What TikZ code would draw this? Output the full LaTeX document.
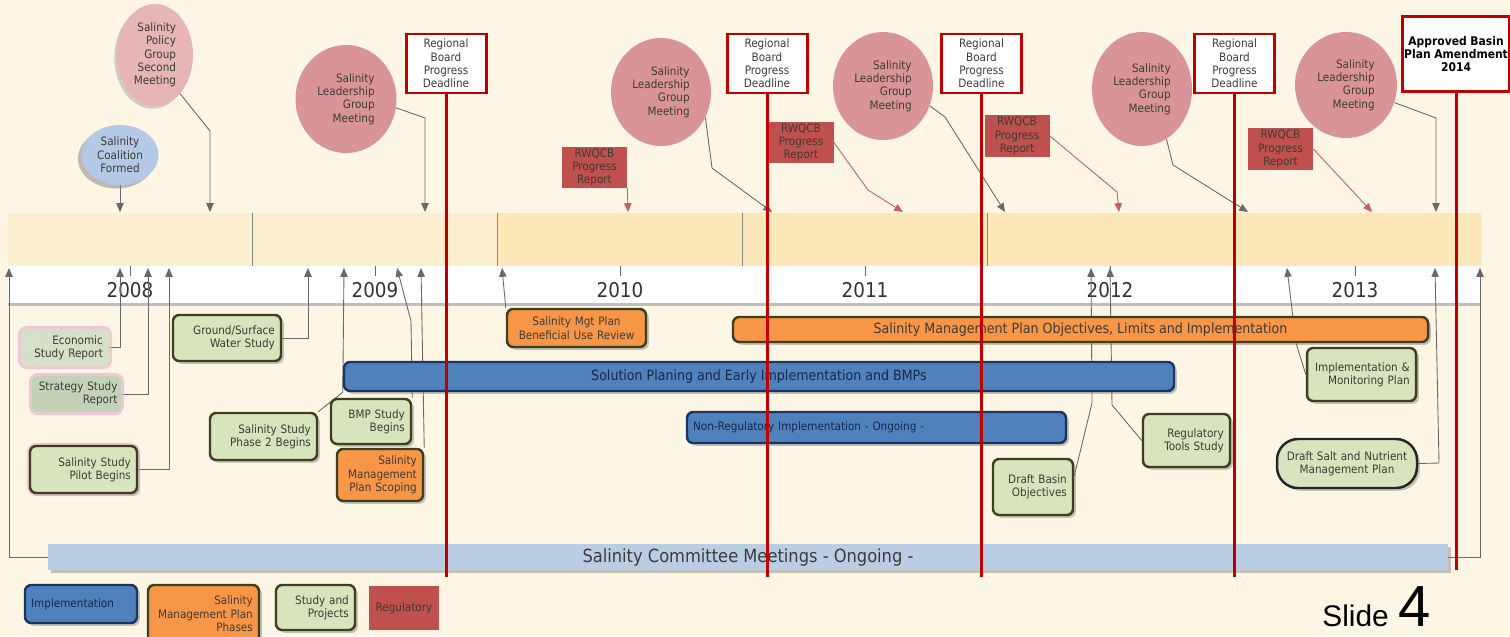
\documentclass[tikz,border=0pt]{standalone}
\usepackage{fontspec}
\setmainfont{DejaVu Sans Condensed}
\newfontfamily\slidefont{Liberation Sans}
\usetikzlibrary{shapes.geometric,arrows.meta,shadows,patterns}

\definecolor{cream}{RGB}{253,246,228}
\definecolor{bandA}{RGB}{251,238,206}
\definecolor{bandB}{RGB}{251,231,183}
\definecolor{conline}{RGB}{105,105,105}
\definecolor{txt}{RGB}{60,60,55}
\definecolor{pinkA}{RGB}{217,148,152}
\definecolor{pinkB}{RGB}{231,180,184}
\definecolor{coalblue}{RGB}{180,201,229}
\definecolor{regred}{RGB}{192,0,0}
\definecolor{rwred}{RGB}{192,80,77}
\definecolor{rwline}{RGB}{200,95,95}
\definecolor{orng}{RGB}{247,150,70}
\definecolor{blu}{RGB}{79,129,189}
\definecolor{bluedge}{RGB}{28,52,95}
\definecolor{navytxt}{RGB}{25,40,70}
\definecolor{grn}{RGB}{215,228,189}
\definecolor{olive}{RGB}{62,62,32}
\definecolor{commblue}{RGB}{185,205,228}
\definecolor{glowpink}{RGB}{232,170,200}
\definecolor{econgrn}{RGB}{212,224,194}
\definecolor{stratgrn}{RGB}{196,210,184}

\pgfdeclarelayer{back}
\pgfdeclarelayer{links}
\pgfsetlayers{back,links,main}

\tikzset{
  sz/.style 2 args={minimum width=#1*0.02cm,minimum height=#2*0.02cm},
  tw/.style 2 args={text width=#1*0.02cm-7pt,inner xsep=3.5pt,minimum height=#2*0.02cm},
  lbl/.style={font=\fontsize{6.6}{7.6}\selectfont,text=txt},
  meet/.style={ellipse,fill=pinkA,lbl,align=right,inner sep=1pt},
  rbd/.style={draw=regred,line width=1.7pt,fill=white,lbl,align=center,inner sep=1pt},
  rwq/.style={fill=rwred,lbl,align=center,inner sep=1pt},
  dshadow/.style={drop shadow={opacity=0.45,shadow xshift=1.6pt,shadow yshift=-1.6pt}},
  bx/.style={rounded corners=3.5pt,draw=olive,line width=1.4pt,lbl,dshadow},
  study/.style={bx,fill=grn,align=right},
  phase/.style={bx,fill=orng,align=right},
  blubox/.style={bx,fill=blu,draw=bluedge,text=navytxt},
  glow/.style={preaction={draw=glowpink,line width=3.5pt,opacity=0.6}},
  con/.style={draw=conline,line width=0.5pt,-{Triangle[length=5pt,width=4.2pt]}},
  rcon/.style={con,draw=rwline},
  dline/.style={draw=regred,line width=1.7pt},
  yr/.style={font=\fontsize{11.6}{12}\selectfont,text=black!80},
  bartxt/.style={font=\fontsize{8}{9}\selectfont}
}

\begin{document}
\begin{tikzpicture}[x=0.02cm,y=-0.02cm]
\path[use as bounding box] (0,0) rectangle (1510,636);
\clip (0,0) rectangle (1510,636);

\begin{pgfonlayer}{back}
  \fill[cream] (0,0) rectangle (1510,636);
  % time band
  \fill[bandA] (8,213) rectangle (497,266);
  \fill[bandB] (497,213) rectangle (1481,266);
  \fill[black!25] (8,303) rectangle (1481,306);
  \fill[white] (8,266) rectangle (1481,303);
  \foreach \x in {252,497,742,987}
    \draw[conline!80,line width=0.4pt] (\x,213) -- (\x,266);
  \foreach \y [count=\i] in {2008,...,2013} {
    \draw[conline,line width=0.4pt] (130+245*\i-245,266) -- ++(0,10);
    \node[yr] (y\y) at (130+245*\i-245,290) {\y};
  }
\end{pgfonlayer}

\foreach \n/\x in {1/120,2/210,3/425,4/628,5/772,6/903,7/1005,8/1119,9/1248,10/1372,11/1436}
  \coordinate (t\n) at (\x,212);
\foreach \n/\x in {1/9,2/120,3/148,4/169,5/308,6/344,7/397,8/421,9/502,10/1091,11/1110,12/1287,13/1435,14/1480}
  \coordinate (b\n) at (\x,268);
\coordinate (low) at (0,577);

% meetings and deadlines
\node[meet,fill=coalblue,align=center,sz={77}{60},drop shadow={opacity=0.5,shadow xshift=-2pt,shadow yshift=-2pt}] (coal) at (120,155) {Salinity\\Coalition\\Formed};
\node[meet,fill=pinkB,sz={76}{102},drop shadow={opacity=0.35,shadow xshift=-1.5pt,shadow yshift=-1.5pt}] (pol) at (155,55) {Salinity\\Policy\\Group\\Second\\Meeting};
\node[meet,sz={101}{108}] (slgm1) at (346,99) {Salinity\\Leadership\\Group\\Meeting};
\node[meet,sz={100}{108}] (slgm2) at (661,92) {Salinity\\Leadership\\Group\\Meeting};
\node[meet,sz={100}{108}] (slgm3) at (883,86) {Salinity\\Leadership\\Group\\Meeting};
\node[meet,sz={100}{114}] (slgm4) at (1142,89) {Salinity\\Leadership\\Group\\Meeting};
\node[meet,sz={102}{106}] (slgm5) at (1346,85) {Salinity\\Leadership\\Group\\Meeting};

\node[rbd,sz={80}{59}] (rb1) at (446,63.5) {Regional\\Board\\Progress\\Deadline};
\node[rbd,sz={80}{59}] (rb2) at (767,63.5) {Regional\\Board\\Progress\\Deadline};
\node[rbd,sz={80}{59}] (rb3) at (981.5,63.5) {Regional\\Board\\Progress\\Deadline};
\node[rbd,sz={80}{59}] (rb4) at (1234.5,63.5) {Regional\\Board\\Progress\\Deadline};
\node[rbd,sz={104}{75},font=\bfseries\fontsize{6.8}{7.2}\selectfont,text=black] (apb) at (1456,54) {Approved Basin\\Plan Amendment\\2014};

\node[rwq,sz={65}{41}] (rw1) at (594.5,167.5) {RWQCB\\Progress\\Report};
\node[rwq,sz={65}{41}] (rw2) at (801,142.5) {RWQCB\\Progress\\Report};
\node[rwq,sz={65}{41}] (rw3) at (1017,136) {RWQCB\\Progress\\Report};
\node[rwq,sz={65}{41}] (rw4) at (1280.5,149) {RWQCB\\Progress\\Report};

% studies and phases
\node[lbl,align=right,tw={88}{37},rounded corners=3.5pt,fill=econgrn,glow,postaction={pattern=north east lines,pattern color=black!12}] (econ) at (65,347.5) {Economic\\Study Report};
\node[lbl,align=right,text width=89*0.02cm-4pt,inner xsep=2pt,minimum height=34*0.02cm,rounded corners=3.5pt,fill=stratgrn,glow] (strat) at (76.5,394) {Strategy Study\\Report};
\node[study,glow,tw={107}{47}] (pilot) at (83.5,469.5) {Salinity Study\\Pilot Begins};
\node[study,tw={108}{46}] (gsw) at (227,338) {Ground/Surface\\Water Study};
\node[study,tw={107}{47}] (ph2) at (263.5,436.5) {Salinity Study\\Phase 2 Begins};
\node[study,tw={80}{45}] (bmp) at (371,421.5) {BMP Study\\Begins};
\node[phase,tw={86}{52}] (smps) at (380,475) {Salinity\\Management\\Plan Scoping};
\node[phase,align=center,tw={139}{38}] (bur) at (576.5,328) {Salinity Mgt Plan\\Beneficial Use Review};
\node[study,tw={80}{56}] (dbo) at (1033,487) {Draft Basin\\Objectives};
\node[study,tw={87}{53}] (regt) at (1186.5,440.5) {Regulatory\\Tools Study};
\node[study,tw={109}{53}] (imp) at (1361.5,374.5) {Implementation \&\\Monitoring Plan};
\node[study,align=center,draw=black!85,rounded corners=12pt,tw={140}{49}] (dsnm) at (1347,463.5) {Draft Salt and Nutrient\\Management Plan};

% bars
\node[phase,align=center,sz={695}{25},bartxt,inner sep=0pt] (smpo) at (1080.5,329.5) {Salinity Management Plan Objectives, Limits and Implementation};
\node[blubox,sz={830}{29},bartxt,inner sep=0pt] (sol) at (759,376.5) {Solution Planing and Early Implementation and BMPs};
\node[blubox,align=left,tw={379}{31}] (nonreg) at (876.5,427.5) {Non-Regulatory Implementation - Ongoing -};
\node[fill=commblue,sz={1400}{26},font=\fontsize{10.3}{11}\selectfont,text=txt,inner sep=0pt,dshadow] (comm) at (748,557) {Salinity Committee Meetings - Ongoing -};

% legend
\node[blubox,align=left,tw={112}{38}] (lg1) at (81,604) {Implementation};
\node[phase,tw={111}{58}] (lg2) at (203.5,614) {Salinity\\Management Plan\\Phases};
\node[study,tw={79}{45}] (lg3) at (315.5,607.5) {Study and\\Projects};
\node[rwq,sz={70}{44}] (lg4) at (404,608) {Regulatory};

\node[font=\slidefont\fontsize{17}{17}\selectfont,anchor=base west,inner sep=0pt] (sl) at (1322,626) {Slide};
\node[font=\slidefont\fontsize{33}{33}\selectfont,anchor=base west,inner sep=0pt] (sn) at ([xshift=5pt]sl.base east) {4};

\begin{pgfonlayer}{links}
  \draw[con] (coal) -- (t1);
  \draw[con] (pol.-57) -- (210,131) -- (t2);
  \draw[con] (slgm1.-10) -- (425,118) -- (t3);
  \draw[rcon] (rw1.south east) -- (t4);
  \draw[con] (slgm2.-30) -- (712,168) -- (t5);
  \draw[rcon] (rw2.east) -- (868,190) -- (t6);
  \draw[con] (slgm3.-23) -- (945,117) -- (t7);
  \draw[rcon] (rw3.east) -- (1117,192) -- (t8);
  \draw[con] (slgm4.-64) -- (1173,165) -- (t9);
  \draw[rcon] (rw4.east) -- (t10);
  \draw[con] (slgm5.-20) -- (1436,118) -- (t11);

  \draw[con] (comm.west) -| (b1);
  \draw[con] (econ.east) -| (b2);
  \draw[con] (strat.east) -| (b3);
  \draw[con] (pilot.east) -| (b4);
  \draw[con] (gsw.east) -| (b5);
  \draw[con] (ph2.north east) -- (sol.south west) -- (b6);
  \draw[con] (bmp.north east) -- (411,321) -- (b7);
  \draw[con] (smps.north east) -- (b8);
  \draw[con] (bur.north west) -- (b9);
  \draw[con] (dbo.15) -- (1092,403) -- (b10);
  \draw[con] (regt.west) -- (1112,405) -- (b11);
  \draw[con] (imp.west) -- (1296,343) -- (b12);
  \draw[con] (dsnm.east) -- (1439,463) -- (b13);
  \draw[con] (comm.east) -| (b14);
\end{pgfonlayer}

% deadlines
\foreach \r in {rb1,rb2,rb3,rb4}
  \draw[dline] (\r.south) -- (\r.south |- low);
\draw[dline] (apb.south) -- (apb.south |- comm.south);
\end{tikzpicture}
\end{document}
